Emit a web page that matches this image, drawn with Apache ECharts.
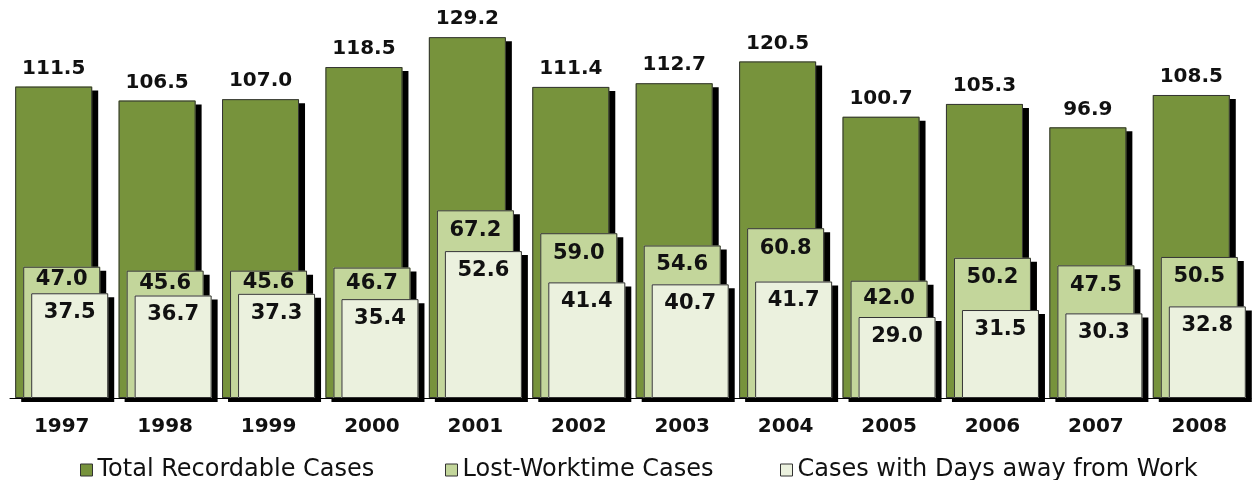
<!DOCTYPE html>
<html>
<head>
<meta charset="utf-8">
<script src="https://cdn.jsdelivr.net/npm/echarts@6/dist/echarts.min.js"></script>
<style>
  html, body { margin: 0; padding: 0; background: #fff; }
  #main { width: 1254px; height: 480px; }
</style>
</head>
<body>
<div id="main"></div>
<script>
const years = ['1997','1998','1999','2000','2001','2002','2003','2004','2005','2006','2007','2008']
const totalCases = [111.5, 106.5, 107.0, 118.5, 129.2, 111.4, 112.7, 120.5, 100.7, 105.3, 96.9, 108.5]
const lostCases = [47.0, 45.6, 45.6, 46.7, 67.2, 59.0, 54.6, 60.8, 42.0, 50.2, 47.5, 50.5]
const daysAwayCases = [37.5, 36.7, 37.3, 35.4, 52.6, 41.4, 40.7, 41.7, 29.0, 31.5, 30.3, 32.8]
const seriesNames = ['Total Recordable Cases', 'Lost-Worktime Cases', 'Cases with Days away from Work']

const colors = ['#77933C', '#C3D69B', '#EBF1DE']
const numFont = 'DejaVu Sans'
const BAR_W = 77
const BAR_GAP = '-89.6%'

let chart = echarts.init(document.getElementById('main'))

const legendAt = (name, left) => ({
  data: [name],
  left: left,
  top: 458,
  padding: 0,
  itemWidth: 12,
  itemHeight: 12,
  icon: 'rect',
  selectedMode: false,
  itemStyle: { borderColor: '#333', borderWidth: 1, shadowBlur: 0, shadowOffsetX: 0, shadowOffsetY: 0 },
  textStyle: { fontFamily: numFont, fontSize: 24, color: '#111' }
})

const fmt = p => Number(p.value).toFixed(1)

// filled bar with hard black drop shadow (no stroke, otherwise the stroke gets a shadow too)
const fillSeries = (name, data, color, label) => ({
  name: name,
  type: 'bar',
  xAxisIndex: 0,
  data: data,
  barWidth: BAR_W,
  barGap: BAR_GAP,
  itemStyle: {
    color: color,
    shadowColor: '#000',
    shadowBlur: 0,
    shadowOffsetX: 6,
    shadowOffsetY: 4
  },
  label: label
})

// thin outline drawn on a twin axis so it lands on the same spot
const outlineSeries = (data) => ({
  type: 'bar',
  xAxisIndex: 1,
  data: data,
  barWidth: BAR_W,
  barGap: BAR_GAP,
  silent: true,
  itemStyle: { color: 'transparent', borderColor: '#333', borderWidth: 1 }
})

const innerLabel = {
  show: true, position: 'insideTop', distance: 9, formatter: fmt,
  fontFamily: numFont, fontWeight: 'bold', fontSize: 21, color: '#111'
}

let option = {
  animation: false,
  legend: [
    legendAt(seriesNames[0], 80),
    legendAt(seriesNames[1], 445),
    legendAt(seriesNames[2], 780)
  ],
  grid: { left: 10, right: 3, top: 7, bottom: 82 },
  xAxis: [
    {
      type: 'category',
      data: years,
      axisLine: { lineStyle: { color: '#000', width: 1 } },
      axisTick: { length: 5, lineStyle: { color: '#000' } },
      axisLabel: { margin: 19, fontFamily: numFont, fontWeight: 'bold', fontSize: 20, color: '#111' }
    },
    { type: 'category', data: years, show: false }
  ],
  yAxis: {
    type: 'value',
    min: 0,
    max: 140,
    show: false,
    splitLine: { show: false }
  },
  series: [
    fillSeries(seriesNames[0], totalCases, colors[0], {
      show: true, position: 'top', distance: 8, formatter: fmt,
      fontFamily: numFont, fontWeight: 'bold', fontSize: 20, color: '#111'
    }),
    outlineSeries(totalCases),
    fillSeries(seriesNames[1], lostCases, colors[1], innerLabel),
    outlineSeries(lostCases),
    fillSeries(seriesNames[2], daysAwayCases, colors[2], innerLabel),
    outlineSeries(daysAwayCases)
  ]
}
chart.setOption(option)

// lost-worktime labels get squeezed up when the band above the lighter bar is thin
let lostData = lostCases.map((v, i) => {
  let gapPx = chart.convertToPixel({yAxisIndex: 0}, daysAwayCases[i]) - chart.convertToPixel({yAxisIndex: 0}, v)
  let center = Math.min(20, gapPx / 2)
  return { value: v, label: { distance: Math.max(1, center - 10.5) } }
})
chart.setOption({ series: [{}, {}, { data: lostData }, {}, {}, {}] })
</script>
</body>
</html>
